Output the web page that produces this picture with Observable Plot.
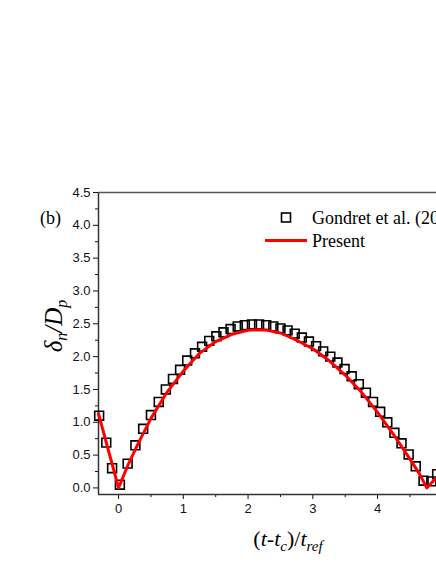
<!DOCTYPE html>
<html><head><meta charset="utf-8">
<script src="https://cdn.jsdelivr.net/npm/d3@7"></script>
<script src="https://cdn.jsdelivr.net/npm/@observablehq/plot@0.6"></script>
<style>body{margin:0;background:#fff;} #chart svg{display:block;}</style>
</head><body><div id="chart"></div>
<script>
// Gondret et al. (2002) experimental points
const expX = [-0.30,-0.19,-0.10,0.02,0.14,0.26,0.38,0.50,0.62,0.73,0.84,0.95,1.06,1.18,1.29,1.40,1.51,1.62,1.73,1.84,1.95,2.06,2.17,2.28,2.39,2.50,2.61,2.72,2.83,2.94,3.05,3.16,3.27,3.38,3.49,3.60,3.71,3.82,3.93,4.04,4.15,4.26,4.37,4.48,4.59,4.71,4.83,4.92];
const expY = [1.10,0.69,0.30,0.05,0.37,0.65,0.90,1.11,1.31,1.50,1.66,1.80,1.94,2.05,2.15,2.24,2.31,2.37,2.42,2.46,2.48,2.49,2.49,2.48,2.46,2.43,2.40,2.35,2.29,2.23,2.16,2.08,2.00,1.91,1.81,1.70,1.58,1.45,1.31,1.16,1.00,0.84,0.68,0.51,0.33,0.11,0.10,0.21];
// Present simulation
const presX = [-0.31,0,0.15,0.30,0.50,0.75,1.00,1.25,1.50,1.75,2.00,2.15,2.30,2.50,2.75,3.00,3.25,3.50,3.75,4.00,4.25,4.50,4.65,4.76,4.91];
const presY = [1.13,0,0.36,0.67,1.06,1.46,1.78,2.05,2.23,2.34,2.40,2.41,2.40,2.36,2.25,2.12,1.94,1.72,1.46,1.15,0.81,0.44,0.21,0,0.16];
const xTicks = [0,1,2,3,4];
const xMinor = [0.5,1.5,2.5,3.5,4.5];
const yTicks = [0,0.5,1,1.5,2,2.5,3,3.5,4,4.5];
const yMinor = [0.25,0.75,1.25,1.75,2.25,2.75,3.25,3.75,4.25];
const xDomain = [-0.31, 4.91];
const yDomain = [-0.1, 4.5];
const legendLabels = ["Gondret et al. (2002)", "Present"];
const panelLabel = "(b)";

const exp = expX.map((x,i)=>({x, y: expY[i]}));
const pres = presX.map((x,i)=>({x, y: presY[i]}));
const serif = "'Liberation Serif','Times New Roman',serif";

const plot = Plot.plot({
  width: 436, height: 564,
  marginLeft: 98, marginRight: 0, marginTop: 192, marginBottom: 70,
  x: {domain: xDomain},
  y: {domain: yDomain},
  style: {fontFamily: "'Liberation Sans',Arial,sans-serif", fontSize: "13px", color: "#111", background: "#fff"},
  marks: [
    Plot.axisX(xTicks, {tickSize: 5, tickPadding: 4, tickFormat: d => String(d), label: null, fontSize: 13}),
    Plot.axisX(xMinor, {tickSize: 3, tickFormat: () => "", label: null}),
    Plot.axisY(yTicks, {tickSize: 5, tickPadding: 3, tickFormat: d3.format(".1f"), label: null, fontSize: 13}),
    Plot.axisY(yMinor, {tickSize: 3, tickFormat: () => "", label: null}),
    Plot.ruleX([xDomain[0]], {stroke: "#333", strokeWidth: 1.5}),
    Plot.ruleY([yDomain[0]], {stroke: "#333", strokeWidth: 1.5}),
    Plot.ruleY([yDomain[1]], {stroke: "#555", strokeWidth: 1.5}),
    Plot.dot(exp, {x: "x", y: "y", symbol: "square", r: 5, stroke: "#000", strokeWidth: 1.6, fill: "none"}),
    Plot.line(pres, {x: "x", y: "y", stroke: "#ff0000", strokeWidth: 3})
  ]
});
document.getElementById("chart").append(plot);

const svg = d3.select(plot);
const txt = (sel) => sel.attr("font-family", serif).attr("fill", "#000").attr("text-anchor", "start");
txt(svg.append("text")).attr("x", 40).attr("y", 224).attr("font-size", 18).text(panelLabel);

// y label
const yl = txt(svg.append("text")).attr("transform", "translate(62,326) rotate(-90)").attr("text-anchor", "middle")
  .attr("font-size", 25).attr("font-style", "italic");
yl.append("tspan").text("δ");
yl.append("tspan").attr("font-size", 16).attr("dy", 5).text("n");
yl.append("tspan").attr("dy", -5).text("/D");
yl.append("tspan").attr("font-size", 16).attr("dy", 5).text("p");

// x label
const xl = txt(svg.append("text")).attr("x", 288).attr("y", 546).attr("text-anchor", "middle").attr("font-size", 22);
xl.append("tspan").text("(");
xl.append("tspan").attr("font-style", "italic").text("t");
xl.append("tspan").text("-");
xl.append("tspan").attr("font-style", "italic").text("t");
xl.append("tspan").attr("font-style", "italic").attr("font-size", 15).attr("dy", 5).text("c");
xl.append("tspan").attr("dy", -5).text(")/");
xl.append("tspan").attr("font-style", "italic").text("t");
xl.append("tspan").attr("font-style", "italic").attr("font-size", 15).attr("dy", 5).text("ref");

// legend
svg.append("rect").attr("x", 281.5).attr("y", 213).attr("width", 9).attr("height", 9)
  .attr("fill", "none").attr("stroke", "#000").attr("stroke-width", 1.6);
svg.append("line").attr("x1", 265).attr("x2", 307).attr("y1", 240.5).attr("y2", 240.5)
  .attr("stroke", "#ff0000").attr("stroke-width", 3);
txt(svg.append("text")).attr("x", 312).attr("y", 224).attr("font-size", 18).text(legendLabels[0]);
txt(svg.append("text")).attr("x", 312).attr("y", 246.5).attr("font-size", 18).text(legendLabels[1]);
</script>
</body></html>
